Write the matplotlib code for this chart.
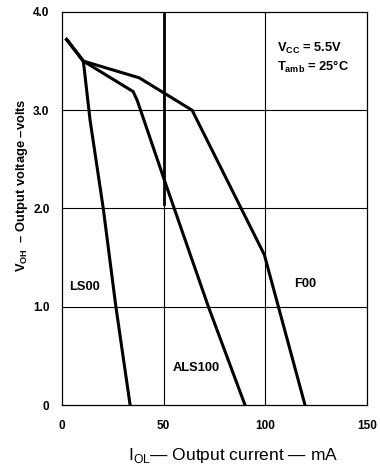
import matplotlib
matplotlib.use("Agg")
import matplotlib.pyplot as plt

plt.rcParams['font.family'] = ['Liberation Sans', 'DejaVu Sans']
plt.rcParams['mathtext.fontset'] = 'custom'
plt.rcParams['mathtext.rm'] = 'Liberation Sans'
plt.rcParams['mathtext.bf'] = 'Liberation Sans:bold'

# curves (mA, volts)
ls00_i = [2.3, 10.5, 13.8, 20.3, 26.5, 33.5]
ls00_v = [3.72, 3.50, 2.90, 2.00, 1.00, 0.0]
als100_i = [2.3, 10.5, 35.0, 37.0, 50.0, 72.0, 90.0]
als100_v = [3.72, 3.50, 3.19, 3.10, 2.31, 1.00, 0.0]
f00_i = [2.3, 10.5, 38.0, 64.0, 99.5, 119.5]
f00_v = [3.72, 3.50, 3.33, 3.00, 1.53, 0.0]

xticks = [0, 50, 100, 150]
xlabels = ["0", "50", "100", "150"]
yticks = [0, 1, 2, 3, 4]
ylabels = ["0", "1.0", "2.0", "3.0", "4.0"]

fig = plt.figure(figsize=(3.8, 4.69), dpi=100)
ax = fig.add_axes([62/380, 1-405/469, 305/380, 393/469])

ax.set_xlim(0, 150)
ax.set_ylim(0, 4)

for x in [50, 100]:
    ax.axvline(x, color='black', lw=0.8, zorder=1)
for y in [1, 2, 3]:
    ax.axhline(y, color='black', lw=0.8, zorder=1)
# heavy part of the 50 mA line in the original
ax.plot([50, 50], [2.05, 4.0], color='black', lw=2.0, zorder=2)

for xs, ys in [(ls00_i, ls00_v), (als100_i, als100_v), (f00_i, f00_v)]:
    ax.plot(xs, ys, color='black', lw=2.2, solid_joinstyle='miter', zorder=3)

ax.set_xticks(xticks)
ax.set_xticklabels(xlabels, fontweight='bold', fontsize=8.5)
ax.set_yticks(yticks)
ax.set_yticklabels(ylabels, fontweight='bold', fontsize=8.5)
ax.tick_params(length=0)
ax.tick_params(axis='x', pad=11)
ax.tick_params(axis='y', pad=9)
for s in ax.spines.values():
    s.set_linewidth(0.9)

ax.text(11.3, 1.2, "LS00", fontweight='bold', fontsize=9.3, ha='center', va='center')
ax.text(119.5, 1.23, "F00", fontweight='bold', fontsize=9.3, ha='center', va='center')
ax.text(66, 0.38, "ALS100", fontweight='bold', fontsize=9.3, ha='center', va='center')

ax.text(105.8, 3.59, r"V$_{\mathbf{CC}}$ = 5.5V", fontweight='bold', fontsize=9.3, ha='left', va='baseline')
ax.text(105.8, 3.40, r"T$_{\mathbf{amb}}$ = 25°C", fontweight='bold', fontsize=9.3, ha='left', va='baseline')

fig.text(22/380, 1-185/469, r"V$_{\mathbf{OH}}$  – Output voltage –volts", rotation=90,
         fontweight='bold', fontsize=9.3, ha='center', va='center')
fig.text(233/380, 1-455/469, r"I$_{\mathrm{OL}}$— Output current — mA",
         fontsize=12.5, ha='center', va='center')

fig.savefig("out.png", dpi=100)
